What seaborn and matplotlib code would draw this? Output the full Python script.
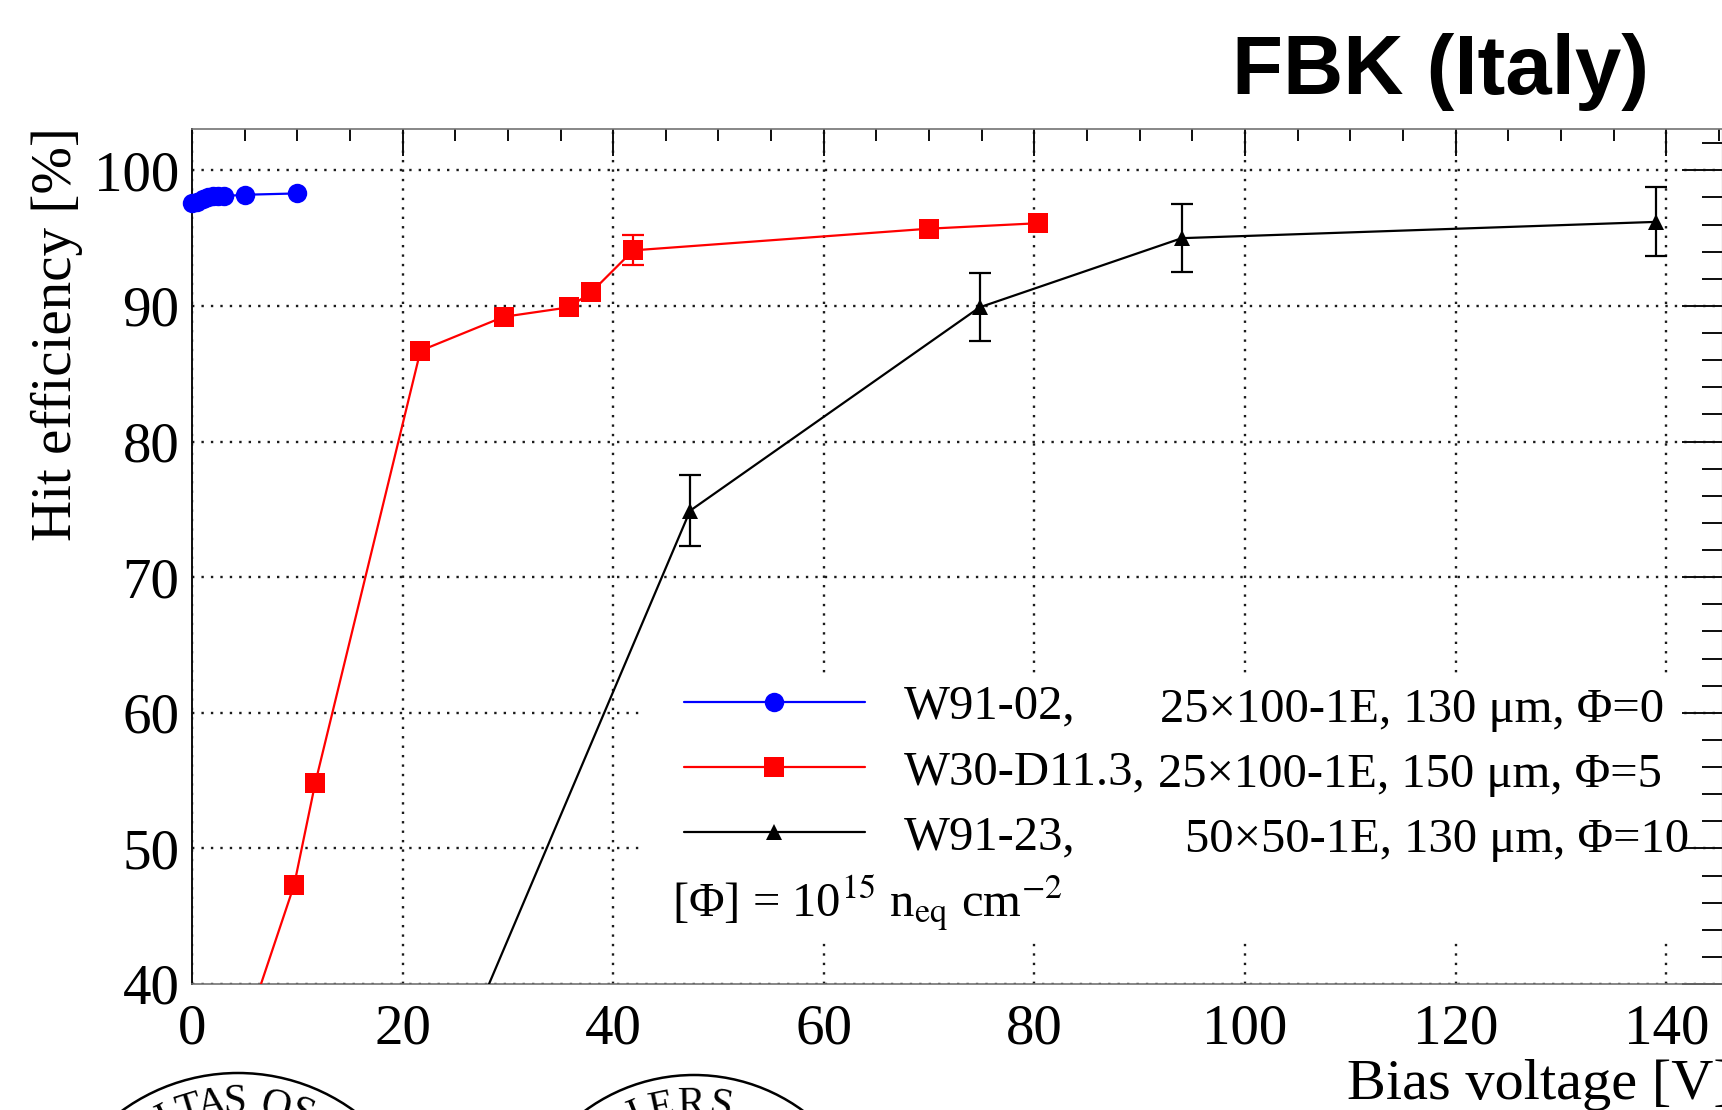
import numpy as np
import matplotlib
matplotlib.use('Agg')
import matplotlib.pyplot as plt
import seaborn as sns
from matplotlib.lines import Line2D
from matplotlib.patches import Rectangle, Circle
from matplotlib.ticker import MultipleLocator

sns.set_style('white')
plt.rcParams['font.family'] = ['Liberation Serif', 'DejaVu Serif']
plt.rcParams['mathtext.fontset'] = 'stix'
plt.rcParams.update({'text.color': 'black', 'axes.labelcolor': 'black',
                     'xtick.color': 'black', 'ytick.color': 'black'})

# W91-02, 25x100-1E, 130 um, unirradiated
w9102_bias = [0, 0.5, 1, 1.5, 2, 2.5, 3, 5, 10]
w9102_eff = [97.6, 97.7, 97.9, 98.0, 98.1, 98.1, 98.1, 98.2, 98.3]

# W30-D11.3, 25x100-1E, 150 um, phi = 5e15
w30_bias = [5, 9.7, 11.7, 21.7, 29.6, 35.8, 37.9, 41.9, 70.0, 80.3]
w30_eff = [36.4, 47.3, 54.8, 86.7, 89.2, 89.9, 91.0, 94.1, 95.7, 96.1]
w30_err = [0, 0, 0, 0, 0, 0, 0, 1.1, 0, 0]

# W91-23, 50x50-1E, 130 um, phi = 1e16
w9123_bias = [20, 47.3, 74.8, 94.0, 139.0]
w9123_eff = [25.0, 74.9, 89.9, 95.0, 96.2]
w9123_err = [0, 2.6, 2.5, 2.5, 2.55]

labels_name = ['W91-02,', 'W30-D11.3,', 'W91-23,']
labels_desc = ['25\u00d7100-1E, 130 \u03bcm, \u03a6=0',
               '25\u00d7100-1E, 150 \u03bcm, \u03a6=5',
               '50\u00d750-1E, 130 \u03bcm, \u03a6=10']
colors = ['#0000ff', '#ff0000', '#000000']
markers = ['o', 's', '^']
msizes = [14, 14, 12]

W, H = 1722, 1110
fig = plt.figure(figsize=(W / 100, H / 100), dpi=100)
ax = fig.add_axes([192 / W, 1 - 984 / H, 1 - 192 / W, (984 - 129) / H])

series = [(w9102_bias, w9102_eff, None),
          (w30_bias, w30_eff, w30_err),
          (w9123_bias, w9123_eff, w9123_err)]

for i, (xs, ys, errs) in enumerate(series):
    sns.lineplot(x=xs, y=ys, ax=ax, color=colors[i], marker=markers[i],
                 markersize=msizes[i], markeredgewidth=0, linewidth=1.6,
                 estimator=None, sort=False, zorder=3,
                 clip_on=(i != 0))
    if errs is not None:
        e = np.array(errs)
        m = e > 0
        ax.errorbar(np.array(xs)[m], np.array(ys)[m], yerr=e[m], fmt='none',
                    ecolor=colors[i], elinewidth=1.6, capsize=8, capthick=1.6,
                    zorder=3)

ax.set_xlim(0, 145.3)
ax.set_ylim(40, 103.05)
ax.xaxis.set_major_locator(MultipleLocator(20))
ax.xaxis.set_minor_locator(MultipleLocator(5))
ax.yaxis.set_major_locator(MultipleLocator(10))
ax.yaxis.set_minor_locator(MultipleLocator(2))

ax.grid(True, which='major', color='0.1', linestyle=(0, (1, 3)), linewidth=1.7)
ax.tick_params(which='both', direction='in', top=True, right=True, color='0.05', width=1.4)
ax.tick_params(axis='x', which='major', length=19.5, labelsize=41, pad=14)
ax.tick_params(axis='x', which='minor', length=8.6)
ax.tick_params(axis='y', which='major', length=29, labelsize=41, pad=9)
ax.tick_params(axis='y', which='minor', length=14.5)
for s in ['top', 'bottom']:
    ax.spines[s].set_color('0.45')
    ax.spines[s].set_linewidth(1.2)
ax.spines['left'].set_color('0.05')
ax.spines['left'].set_linewidth(1.4)

ax.set_xlabel('Bias voltage [V]', fontsize=42, ha='right', va='baseline')
ax.xaxis.set_label_coords((1733 - 192) / 1530, (984 - 1099) / 855)
ax.set_ylabel('Hit efficiency [%]', fontsize=41, ha='right', va='center')
ax.yaxis.set_label_coords((57 - 192) / 1530, (984 - 127) / 855)

# white legend background hiding the grid
ax.add_patch(Rectangle((643 / W, 1 - 937 / H), (1680 - 643) / W, (937 - 673) / H,
                       transform=fig.transFigure, facecolor='white',
                       edgecolor='none', zorder=1))

handles = [Line2D([], [], color=colors[i], marker=markers[i], markersize=msizes[i],
                  markeredgewidth=0, linewidth=1.6) for i in range(3)]
leg = ax.legend(handles, labels_name, loc='center left',
                bbox_to_anchor=(684 / W, 1 - 772 / H), bbox_transform=fig.transFigure,
                frameon=False, fontsize=35, handlelength=3.72, handletextpad=0.8,
                labelspacing=0.44, borderpad=0, borderaxespad=0)
leg.set_zorder(5)

desc_x = [1160, 1158, 1185]
desc_base = [722, 787, 852]
for i in range(3):
    fig.text(desc_x[i] / W, 1 - desc_base[i] / H, labels_desc[i], fontsize=35,
             ha='left', va='baseline')

fig.text(672 / W, 1 - 917 / H, '[\u03a6] = 10$^{15}$ n$_{\\mathrm{eq}}$ cm$^{\\mathrm{-2}}$',
         fontsize=35, ha='left', va='baseline')

fig.text(1232 / W, 1 - 94 / H, 'FBK (Italy)', fontsize=60, fontweight='bold',
         family='Liberation Sans', ha='left', va='baseline')

# partial university seals at the bottom edge
seals = [((238, 1270), 197, 'ITAS OS', [-26, -17, -9, -1, 8, 13, 22]),
         ((694, 1259), 184, 'IERS', [-22, -12, -1, 10])]
for (cx, cy), r, txt, angs in seals:
    fig.patches.append(Circle((cx / 100, (H - cy) / 100), r / 100, fill=False,
                              edgecolor='black', linewidth=1.8,
                              transform=fig.dpi_scale_trans, figure=fig))
    for ch, a in zip(txt, angs):
        if ch == ' ':
            continue
        t = np.deg2rad(a)
        px = cx + (r - 30) * np.sin(t)
        py = cy - (r - 30) * np.cos(t)
        fig.text(px / W, 1 - py / H, ch, fontsize=30, rotation=-a,
                 ha='center', va='center', rotation_mode='anchor')

fig.savefig('out.png', dpi=100)
